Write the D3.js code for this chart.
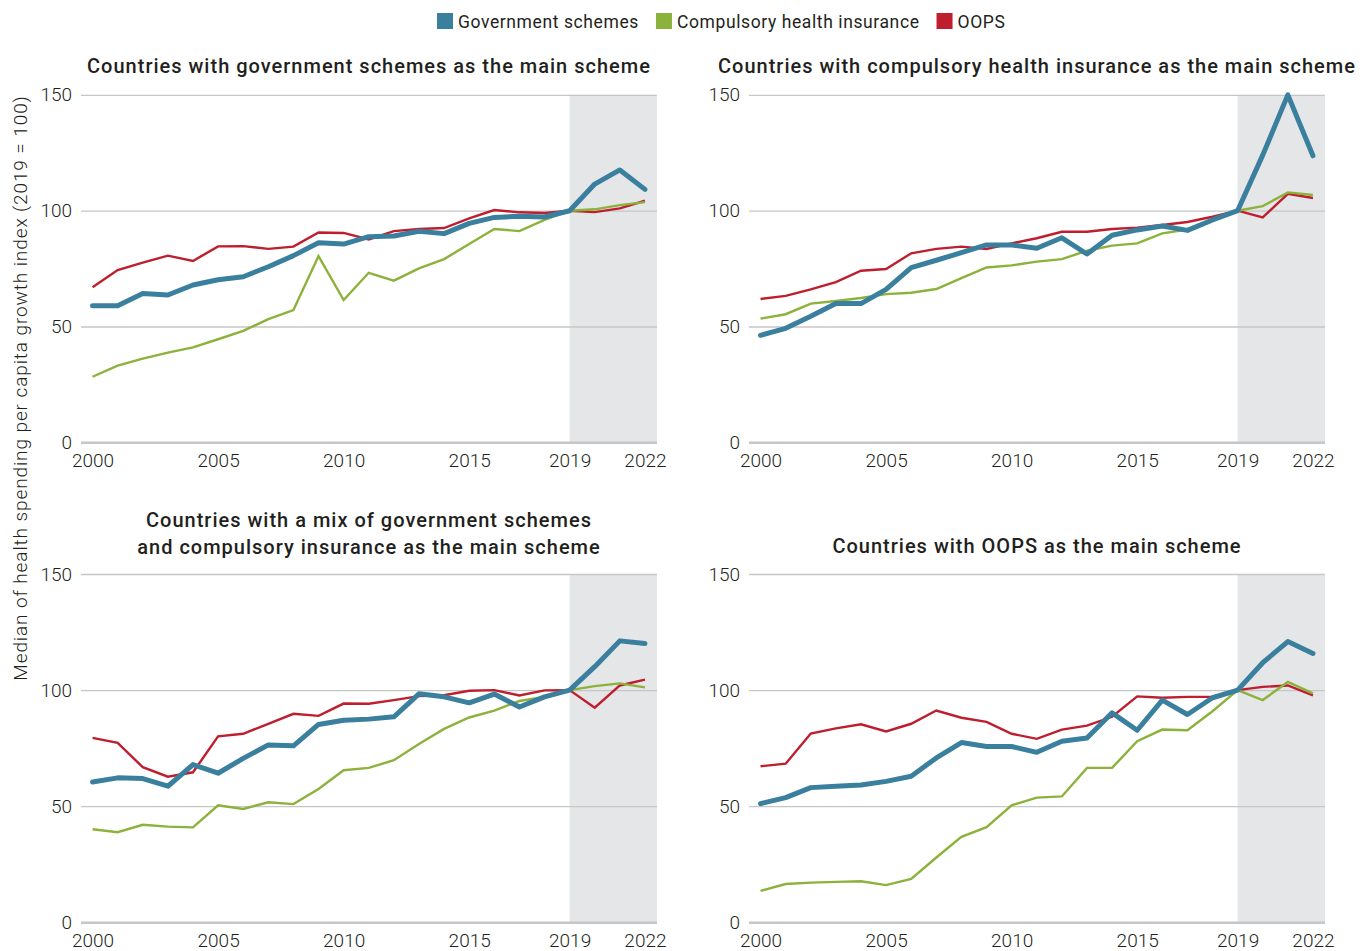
<!DOCTYPE html>
<html>
<head>
<meta charset="utf-8">
<script src="https://cdn.jsdelivr.net/npm/d3@7/dist/d3.min.js"></script>
<style>
  body { margin: 0; background: #fff; }
  text { font-family: Roboto, "Open Sans", sans-serif; fill: #231f20; }
</style>
</head>
<body>
<div id="chart"></div>
<script>
// index of health spending per capita, 2019 = 100
const years = [2000, 2001, 2002, 2003, 2004, 2005, 2006, 2007, 2008, 2009, 2010, 2011,
  2012, 2013, 2014, 2015, 2016, 2017, 2018, 2019, 2020, 2021, 2022]

const seriesNames = ["Government schemes", "Compulsory health insurance", "OOPS"]

// countries with government schemes as main scheme
const gsGov = [59, 59, 64.3, 63.6, 67.9, 70.2, 71.5, 75.8, 80.6, 86.2, 85.6, 88.8,
  89.1, 91.1, 90.1, 94.5, 97.1, 97.6, 97.3, 100, 111.5, 117.6, 109.2]
const gsChi = [28.3, 33.1, 36.1, 38.7, 41, 44.5, 48.1, 53.2, 57.1, 80.4, 61.4, 73.2,
  69.8, 75.1, 79.1, 85.6, 92.1, 91.2, 96, 100, 100.6, 102.4, 103.7]
const gsOops = [66.9, 74.4, 77.6, 80.6, 78.3, 84.6, 84.7, 83.5, 84.5, 90.6, 90.4, 87.6,
  91.2, 92.1, 92.5, 96.7, 100.3, 99.3, 99, 100, 99.4, 101, 104.3]

// countries with compulsory health insurance as main scheme
const chiGov = [46.2, 49.2, 54.4, 59.9, 59.9, 66, 75.4, 78.6, 81.9, 85.2, 85.2, 83.8,
  88.3, 81.3, 89.4, 91.7, 93.4, 91.5, 96, 100, 124, 150, 123.7]
const chiChi = [53.4, 55.3, 59.9, 61, 62.3, 64, 64.6, 66.2, 70.9, 75.5, 76.4, 78,
  79.1, 82.7, 84.9, 85.9, 90.2, 91.9, 96, 100, 102, 107.9, 106.8]
const chiOops = [61.9, 63.2, 66, 69.2, 74.1, 74.8, 81.6, 83.5, 84.5, 83.5, 85.9, 88.1,
  90.9, 90.9, 92.1, 92.7, 93.8, 95.1, 97.4, 100, 97.1, 107.3, 105.5]

// mix of government schemes and compulsory insurance
const mixGov = [60.4, 62.2, 61.9, 58.6, 67.9, 64.2, 70.6, 76.4, 76, 85.2, 87, 87.5,
  88.5, 98.4, 97.1, 94.5, 98.3, 92.7, 97.1, 100, 110.1, 121.2, 120.1]
const mixChi = [40.1, 38.8, 42, 41.2, 40.9, 50.4, 48.8, 51.7, 50.9, 57.4, 65.5, 66.5,
  69.8, 76.8, 83.3, 88.2, 91.2, 95.3, 97.1, 100, 101.7, 102.9, 101.2]
const mixOops = [79.4, 77.3, 66.8, 62.7, 64.6, 80.1, 81.2, 85.5, 89.8, 88.9, 94.2, 94.1,
  95.7, 97.4, 97.8, 99.7, 100, 97.7, 99.9, 100, 92.4, 102, 104.5]

// countries with OOPS as main scheme
const oopsGov = [51.1, 53.7, 58, 58.6, 59.1, 60.7, 62.9, 70.8, 77.4, 75.7, 75.7, 73.2,
  78, 79.4, 90.2, 82.7, 95.7, 89.5, 96.7, 100, 111.8, 120.9, 115.8]
const oopsChi = [13.5, 16.5, 17.1, 17.4, 17.7, 16, 18.7, 27.9, 36.8, 41, 50.4, 53.7,
  54.2, 66.5, 66.5, 78, 83, 82.7, 90.9, 100, 95.7, 103.5, 98.6]
const oopsOops = [67.2, 68.3, 81.3, 83.5, 85.3, 82.2, 85.5, 91.2, 88.1, 86.3, 81.2, 79,
  83, 84.7, 88.5, 97.3, 96.7, 97.1, 97.1, 100, 101.4, 102, 97.7]

const xTicks = [2000, 2005, 2010, 2015, 2019, 2022]
const yTicks = [0, 50, 100, 150]
const shadeFrom = 2019

const colors = { gov: "#3a7f9d", chi: "#8cb23c", oops: "#be1e2d" }

const panels = [
  { title: ["Countries with government schemes as the main scheme"], gov: gsGov, chi: gsChi, oops: gsOops, col: 0, row: 0 },
  { title: ["Countries with compulsory health insurance as the main scheme"], gov: chiGov, chi: chiChi, oops: chiOops, col: 1, row: 0 },
  { title: ["Countries with a mix of government schemes", "and compulsory insurance as the main scheme"], gov: mixGov, chi: mixChi, oops: mixOops, col: 0, row: 1 },
  { title: ["Countries with OOPS as the main scheme"], gov: oopsGov, chi: oopsChi, oops: oopsOops, col: 1, row: 1 }
]

const W = 1370, H = 951
const svg = d3.select("#chart").append("svg")
  .attr("width", W).attr("height", H)

// plot areas
const colX = [[81, 657], [749, 1325]]
const rowY = [[442.3, 94.9], [922.3, 574]]

// legend
const legendItems = [
  { name: seriesNames[0], color: colors.gov },
  { name: seriesNames[1], color: colors.chi },
  { name: seriesNames[2], color: colors.oops }
]
const legend = svg.append("g").attr("transform", "translate(437, 13)")
let lx = 0
legendItems.forEach(function(it) {
  const g = legend.append("g").attr("transform", `translate(${lx}, 0)`)
  g.append("rect").attr("width", 16).attr("height", 16).attr("fill", it.color)
  const t = g.append("text").attr("x", 21).attr("y", 14.5)
    .attr("font-size", 17.5).attr("letter-spacing", 0.6).text(it.name)
  lx += 21 + t.node().getComputedTextLength() + 17
})

// y axis title
svg.append("text")
  .attr("transform", "translate(27, 388) rotate(-90)")
  .attr("text-anchor", "middle")
  .attr("font-size", 19)
  .attr("font-weight", 300)
  .attr("letter-spacing", 0.9)
  .text("Median of health spending per capita growth index (2019 = 100)")

panels.forEach(function(p) {
  const [x0, x1] = colX[p.col]
  const [y0, y1] = rowY[p.row]

  const x = d3.scaleLinear().domain([1999.54, 2022.48]).range([x0, x1])
  const y = d3.scaleLinear().domain([0, 150]).range([y0, y1])

  const g = svg.append("g")

  // shaded projection period
  g.append("rect")
    .attr("x", x(shadeFrom)).attr("y", y(150))
    .attr("width", x1 - x(shadeFrom)).attr("height", y(0) - y(150))
    .attr("fill", "#e5e6e8")

  // grid + y labels
  const ya = g.append("g")
    .attr("transform", `translate(${x0}, 0)`)
    .call(d3.axisLeft(y).tickValues(yTicks).tickSize(-(x1 - x0)).tickPadding(9))
  ya.select(".domain").remove()
  ya.selectAll(".tick line")
    .attr("stroke", "#c6c6c6")
    .attr("stroke-width", function(d) { return d === 0 ? 2.5 : 1.3 })
  ya.selectAll(".tick text")
    .attr("font-size", 19).attr("font-weight", 300)
    .attr("font-family", "Roboto, sans-serif").attr("fill", "#231f20")

  // x labels
  const xa = g.append("g")
    .attr("transform", `translate(0, ${y0})`)
    .call(d3.axisBottom(x).tickValues(xTicks).tickFormat(d3.format("d")).tickSize(0).tickPadding(11))
  xa.select(".domain").remove()
  xa.selectAll(".tick text")
    .attr("font-size", 19).attr("font-weight", 300)
    .attr("font-family", "Roboto, sans-serif").attr("fill", "#231f20")

  // lines
  const line = d3.line()
    .x(function(d, i) { return x(years[i]) })
    .y(function(d) { return y(d) })

  g.append("path").datum(p.oops).attr("d", line)
    .attr("fill", "none").attr("stroke", colors.oops).attr("stroke-width", 2.4)
  g.append("path").datum(p.chi).attr("d", line)
    .attr("fill", "none").attr("stroke", colors.chi).attr("stroke-width", 2.4)
  g.append("path").datum(p.gov).attr("d", line)
    .attr("fill", "none").attr("stroke", colors.gov).attr("stroke-width", 5)
    .attr("stroke-linecap", "round").attr("stroke-linejoin", "round")

  // title
  const cx = (x0 + x1) / 2
  const tY = p.row === 0 ? 72.5 : (p.title.length > 1 ? 526.5 : 553)
  p.title.forEach(function(line, i) {
    svg.append("text")
      .attr("x", cx).attr("y", tY + i * 27)
      .attr("text-anchor", "middle")
      .attr("font-size", 20).attr("font-weight", 500)
      .attr("letter-spacing", 1.0)
      .text(line)
  })
})
</script>
</body>
</html>
